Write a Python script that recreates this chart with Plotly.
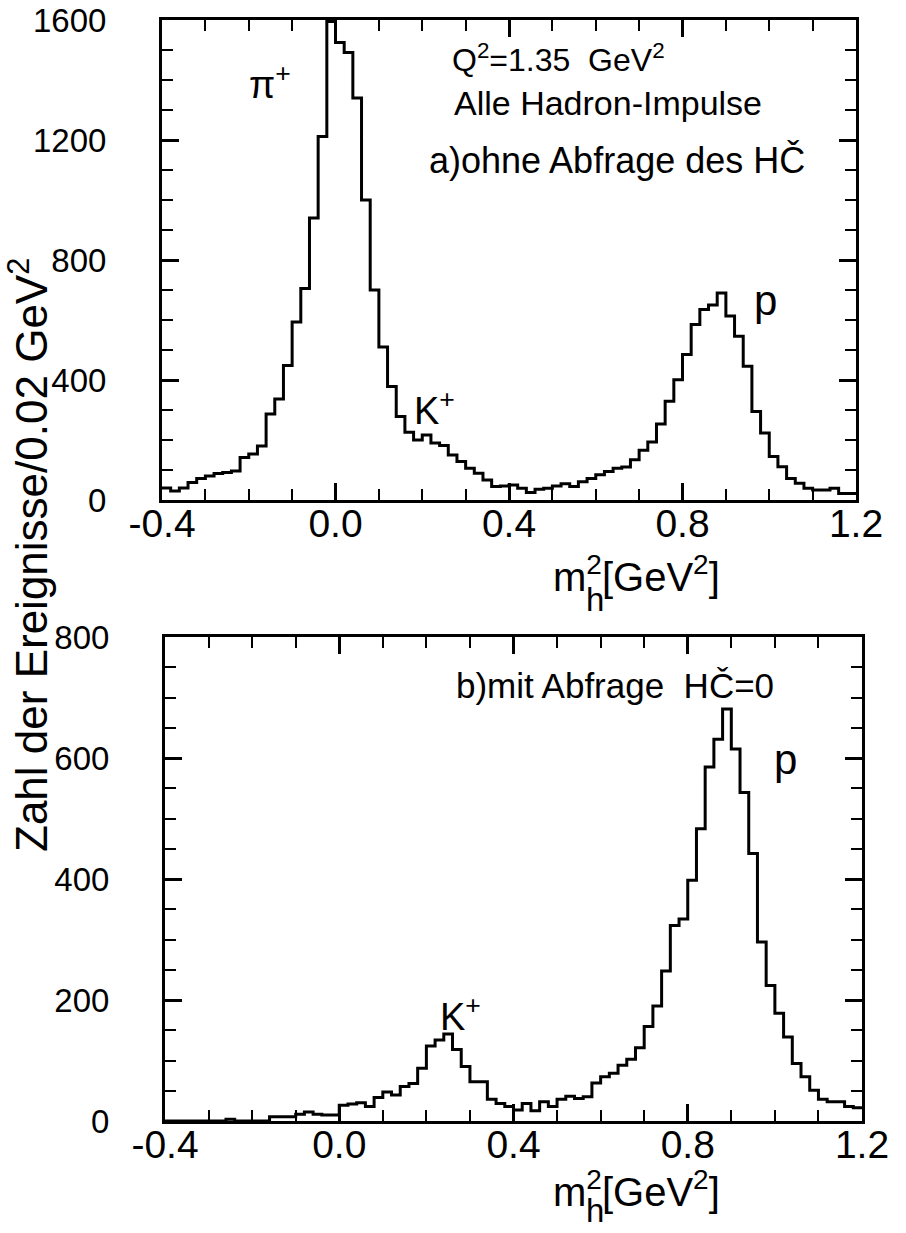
import plotly.graph_objects as go

W, H = 906, 1233

# ---------------- data ----------------
bin_width = 0.02
x_start = -0.4

# panel a) ohne Abfrage des HC  (counts per 0.02 GeV^2, 80 bins from -0.4 to 1.2)
top_counts = [40, 30, 40, 58, 72, 80, 88, 92, 97, 142,
              153, 180, 287, 337, 448, 593, 705, 940, 1212, 1595,
              1525, 1492, 1340, 1000, 700, 510, 378, 278, 226, 200,
              217, 190, 182, 150, 128, 106, 89, 67, 45, 47,
              50, 39, 25, 36, 39, 47, 54, 45, 61, 72,
              84, 95, 106, 110, 134, 166, 193, 253, 329, 401,
              485, 585, 635, 650, 690, 613, 546, 446, 295, 223,
              145, 111, 72, 56, 39, 33, 33, 39, 22, 22]

# panel b) mit Abfrage HC=0
bottom_counts = [0, 0, 0, 0, 0, 0, 0, 3, 0, 0,
                 0, 0, 7, 7, 7, 11, 15, 11, 10, 10,
                 26, 28, 30, 24, 39, 48, 43, 57, 62, 87,
                 124, 134, 144, 118, 90, 65, 65, 36, 29, 24,
                 18, 29, 17, 32, 24, 36, 41, 37, 40, 63,
                 73, 79, 92, 102, 121, 156, 190, 248, 323, 334,
                 398, 483, 585, 631, 681, 615, 543, 442, 296, 224,
                 178, 139, 95, 73, 51, 36, 32, 32, 24, 22]

x_tickvals = [-0.4, 0.0, 0.4, 0.8, 1.2]
x_ticktext = ["-0.4", "0.0", "0.4", "0.8", "1.2"]
top_ytickvals = [0, 400, 800, 1200, 1600]
bottom_ytickvals = [0, 200, 400, 600, 800]

edges = [round(x_start + bin_width * i, 4) for i in range(len(top_counts) + 1)]

# ---------------- figure ----------------
fig = go.Figure()
fig.add_trace(go.Scatter(x=edges, y=top_counts + [top_counts[-1]], mode="lines",
                         line=dict(shape="hv", color="black", width=3),
                         xaxis="x", yaxis="y", showlegend=False, hoverinfo="skip"))
fig.add_trace(go.Scatter(x=edges, y=bottom_counts + [bottom_counts[-1]], mode="lines",
                         line=dict(shape="hv", color="black", width=3),
                         xaxis="x2", yaxis="y2", showlegend=False, hoverinfo="skip"))

FONT = "Liberation Sans, Arial, sans-serif"


def xaxis(domain, anchor):
    return dict(domain=domain, anchor=anchor, range=[-0.4, 1.2], automargin=False,
                tickmode="array", tickvals=x_tickvals, ticktext=x_ticktext,
                ticks="inside", ticklen=17, tickwidth=2.5, tickcolor="black",
                showline=True, linecolor="black", linewidth=3, mirror="allticks",
                showgrid=False, zeroline=False,
                minor=dict(ticks="inside", ticklen=11, tickwidth=2, tickcolor="black",
                           tick0=-0.4, dtick=0.1, showgrid=False),
                tickfont=dict(family=FONT, size=39, color="black"),
                ticklabelstandoff=-13, ticklabeloverflow="allow", fixedrange=True)


def yaxis(domain, anchor, rng, vals, minor_dtick):
    return dict(domain=domain, anchor=anchor, range=rng, automargin=False,
                tickmode="array", tickvals=vals, ticktext=[str(v) for v in vals],
                ticks="inside", ticklen=17, tickwidth=2.5, tickcolor="black",
                showline=True, linecolor="black", linewidth=3, mirror="allticks",
                showgrid=False, zeroline=False,
                minor=dict(ticks="inside", ticklen=11, tickwidth=2, tickcolor="black",
                           tick0=0, dtick=minor_dtick, showgrid=False),
                tickfont=dict(family=FONT, size=33, color="black"),
                ticklabelstandoff=46, ticklabeloverflow="allow", fixedrange=True)


fig.update_layout(
    width=W, height=H, autosize=False,
    margin=dict(l=0, r=0, t=0, b=0, pad=0, autoexpand=False),
    paper_bgcolor="white", plot_bgcolor="white",
    xaxis=xaxis([162 / W, 856 / W], "y"),
    yaxis=yaxis([1 - 500 / H, 1 - 20 / H], "x", [0, 1600], top_ytickvals, 100),
    xaxis2=xaxis([165 / W, 862 / W], "y2"),
    yaxis2=yaxis([1 - 1121 / H, 1 - 637 / H], "x2", [0, 800], bottom_ytickvals, 50),
)


def P(px, py):
    return px / W, 1 - py / H


def txt(text, px, py, size=30, xanchor="left", family=FONT, angle=0):
    x, y = P(px, py)
    fig.add_annotation(text=text, x=x, y=y, xref="paper", yref="paper",
                       xanchor=xanchor, yanchor="middle", showarrow=False,
                       textangle=angle,
                       font=dict(family=family, size=size, color="black"))


# panel a texts
txt("Q<sup>2</sup>=1.35  GeV<sup>2</sup>", 450, 58, size=32)
txt("Alle Hadron-Impulse", 452, 103, size=34)
txt("a)ohne Abfrage des HČ", 427, 160, size=36)
txt("π<sup>+</sup>", 270, 82, size=38, xanchor="center")
txt("K<sup>+</sup>", 434, 408, size=38, xanchor="center")
txt("p", 765, 300, size=42, xanchor="center")

# panel b texts
txt("b)mit Abfrage  HČ=0", 454, 685, size=35)
txt("K<sup>+</sup>", 460, 1014, size=38, xanchor="center")
txt("p", 785, 760, size=42, xanchor="center")

# x-axis titles (m with stacked sub/superscript)
for ym, hoff in ((574, 25), (1189, 21)):
    txt("m<sup>2</sup>[GeV<sup>2</sup>]", 551, ym, size=40)
    txt("h", 595, ym + hoff, size=33, xanchor="center")

# y-axis title
txt("Zahl der Ereignisse/0.02 GeV<sup>2</sup>", 28, 555, size=44, xanchor="center", angle=-90)

fig.write_html("out.html")
